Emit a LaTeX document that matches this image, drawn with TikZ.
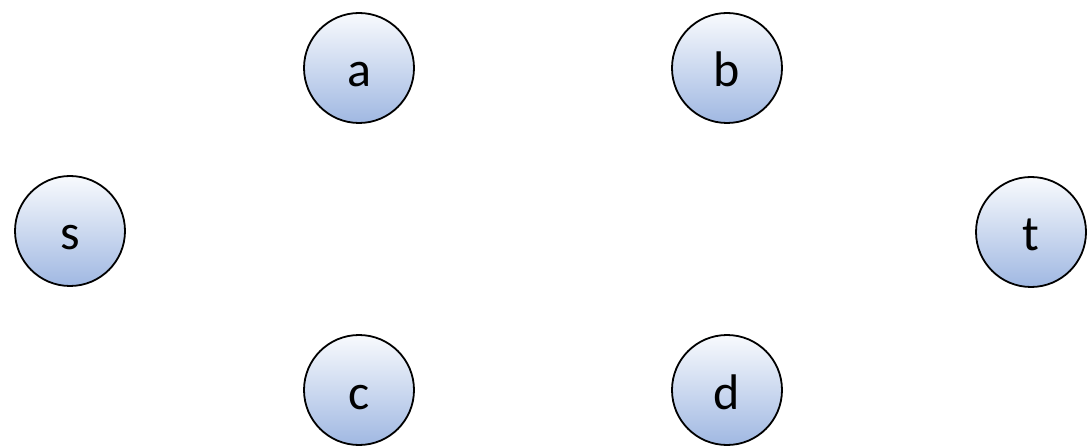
\documentclass[tikz,border=0pt]{standalone}
\usepackage{fontspec}
\setmainfont{Carlito}
\usetikzlibrary{positioning}

\begin{document}
\begin{tikzpicture}[x=1pt,y=-1pt]
\definecolor{nodetop}{RGB}{248,250,253}
\definecolor{nodebottom}{RGB}{160,184,226}
\tikzset{vertex/.style={circle,draw=black,line width=1.8pt,minimum size=110pt,
  inner sep=0pt,top color=nodetop,bottom color=nodebottom,
  text height=38pt,text depth=0pt,font=\fontsize{50}{50}\selectfont}}
\useasboundingbox (0,0) rectangle (1089,446);

% Vertices of the network.
\node[vertex] (s) at (70,231) {s};
\node[vertex] (a) at (359,68) {a};
\node[vertex] (b) at (727,68) {b};
\node[vertex] (c) at (359,390) {c};
\node[vertex] (d) at (727,390) {d};
\node[vertex] (t) at (1031,232) {t};
\end{tikzpicture}
\end{document}
